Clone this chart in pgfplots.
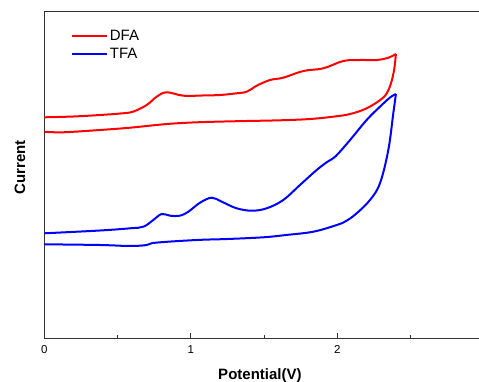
\documentclass[border=0pt]{standalone}
\usepackage{fontspec}
\setmainfont{Liberation Sans}
\usepackage{pgfplots}
\pgfplotsset{compat=1.18}
\usetikzlibrary{calc}
\begin{document}
\begin{tikzpicture}
\begin{axis}[
  scale only axis,
  width=434.7bp, height=327bp,
  xmin=0, xmax=2.967, ymin=0, ymax=327,
  axis x line*=box, axis y line*=left,
  x axis line style={-}, y axis line style={-},
  axis line style={black!80, line width=0.9bp},
  xtick={0,1,2}, minor xtick={0.5,1.5,2.5},
  xtick pos=bottom, ytick=\empty,
  tick align=inside,
  major tick length=5bp, minor tick length=3bp,
  every tick/.style={black!80, line width=0.9bp},
  /pgf/number format/assume math mode=true,
  xticklabel style={font=\fontsize{11.5bp}{13bp}\selectfont, yshift=-4bp},
  xlabel={\textbf{Potential(V)}},
  ylabel={\textbf{Current}},
  xlabel style={font=\fontsize{15bp}{18bp}\selectfont, at={(axis description cs:0.496,0)}, anchor=base, yshift=-41bp},
  ylabel style={font=\fontsize{15bp}{18bp}\selectfont, at={(axis description cs:-0.0559,0.5214)}, anchor=center},
  legend style={draw=none, fill=none, font=\fontsize{15bp}{18bp}\selectfont,
    at={(axis description cs:0.055,0.954)}, anchor=north west,
    row sep=4bp, nodes={inner sep=1.5bp}},
  legend cell align=left,
  legend image code/.code={\draw[#1] (0bp,0bp) -- (35bp,0bp);},
]
% DFA forward
\addplot[red, line width=2bp, smooth, tension=0.6] coordinates {
(0,220.7) (0.2,221.5) (0.38,223) (0.52,224.5) (0.605,226.3) (0.699,233) (0.767,241.3) (0.835,245.7) (0.949,242.3) (1.08,242.5) (1.199,243) (1.3,244.5) (1.382,246.3) (1.45,252.3) (1.541,258) (1.631,260.3) (1.768,267) (1.905,269.7) (2.041,277) (2.155,278) (2.269,278) (2.348,280.3) (2.40,284)
};
\addlegendentry{DFA}
% TFA forward
\addplot[blue, line width=2bp, smooth, tension=0.6] coordinates {
(0,104.7) (0.38,107.5) (0.586,109.7) (0.676,111.3) (0.744,118) (0.801,124) (0.858,122.3) (0.926,122.3) (0.983,126.3) (1.063,135.3) (1.143,140.3) (1.211,136.3) (1.313,129.7) (1.416,127.3) (1.518,129.7) (1.631,138) (1.745,153) (1.859,168) (1.93,176) (1.99,182) (2.087,198) (2.2,218) (2.291,231.3) (2.36,240.5) (2.40,244)
};
\addlegendentry{TFA}
% DFA reverse
\addplot[red, line width=2bp, smooth, tension=0.6, forget plot] coordinates {
(2.40,284) (2.385,266) (2.355,250) (2.31,240) (2.2,229.7) (2.087,224) (1.971,221.3) (1.814,219) (1.609,217.7) (1.288,216.7) (1.042,215.7) (0.838,214) (0.585,210.3) (0.38,208) (0.128,205.7) (0,206.3)
};
% TFA reverse
\addplot[blue, line width=2bp, smooth, tension=0.6, forget plot] coordinates {
(2.40,244) (2.382,224.7) (2.348,188) (2.291,154.7) (2.223,138) (2.132,124.7) (2.06,117) (1.996,113) (1.836,106.3) (1.65,103) (1.495,100.7) (1.25,99) (1.04,98) (0.76,95.3) (0.7,93) (0.586,92) (0.38,93) (0,93.7)
};
\end{axis}
\pgfresetboundingbox
\path[use as bounding box] ($(current axis.south west)+(-44.3bp,-44bp)$) rectangle ($(current axis.south west)+(434.7bp,338bp)$);
\end{tikzpicture}
\end{document}
